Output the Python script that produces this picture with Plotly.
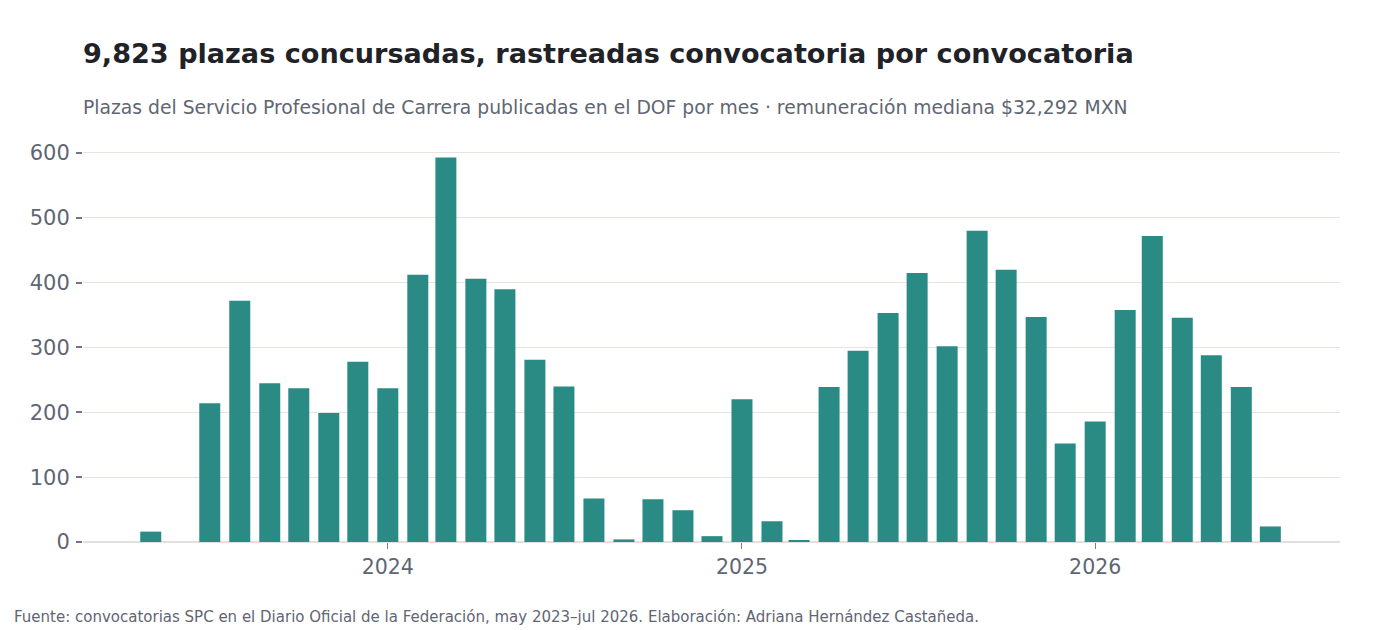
import plotly.graph_objects as go

months = [
    "2023-05-01", "2023-07-01", "2023-08-01", "2023-09-01", "2023-10-01", "2023-11-01", "2023-12-01",
    "2024-01-01", "2024-02-01", "2024-03-01", "2024-04-01", "2024-05-01", "2024-06-01",
    "2024-07-01", "2024-08-01", "2024-09-01", "2024-10-01", "2024-11-01", "2024-12-01",
    "2025-01-01", "2025-02-01", "2025-03-01", "2025-04-01", "2025-05-01", "2025-06-01",
    "2025-07-01", "2025-08-01", "2025-09-01", "2025-10-01", "2025-11-01", "2025-12-01",
    "2026-01-01", "2026-02-01", "2026-03-01", "2026-04-01", "2026-05-01", "2026-06-01",
    "2026-07-01",
]
plazas = [
    16, 214, 372, 245, 237, 199, 278,
    237, 412, 593, 406, 390, 281,
    240, 67, 4, 66, 49, 9,
    220, 32, 3, 239, 295, 353,
    415, 302, 480, 420, 347, 152,
    186, 358, 472, 346, 288, 239,
    24,
]
tick_vals = ["2024-01-01", "2025-01-01", "2026-01-01"]
tick_text = ["2024", "2025", "2026"]
y_ticks = [0, 100, 200, 300, 400, 500, 600]

title = "9,823 plazas concursadas, rastreadas convocatoria por convocatoria"
subtitle = "Plazas del Servicio Profesional de Carrera publicadas en el DOF por mes · remuneración mediana $32,292 MXN"
footer = "Fuente: convocatorias SPC en el Diario Oficial de la Federación, may 2023–jul 2026. Elaboración: Adriana Hernández Castañeda."

BAR = "#2a8b85"
GRAY = "#5f6673"
GRID = "#e6e4df"
FONT = "DejaVu Sans"

fig = go.Figure(go.Bar(
    x=months, y=plazas,
    marker=dict(color=BAR, line=dict(width=0)),
    width=[21.7 * 86400000] * len(months),
    hoverinfo="x+y",
))

fig.update_layout(
    width=1380, height=630,
    margin=dict(l=83, r=40, t=140, b=88),
    paper_bgcolor="white", plot_bgcolor="white",
    font=dict(family=FONT, color=GRAY),
    showlegend=False,
    xaxis=dict(
        type="date",
        range=["2023-02-20", "2026-09-11"],
        tickvals=tick_vals, ticktext=tick_text,
        ticks="outside", ticklen=6, tickwidth=1, tickcolor="#7a808a",
        tickfont=dict(size=20.5, color=GRAY, family=FONT),
        showgrid=False, zeroline=False, showline=False,
    ),
    yaxis=dict(
        range=[0, 620],
        tickvals=y_ticks,
        ticks="outside", ticklen=6, tickwidth=2, tickcolor="#6f7682",
        tickfont=dict(size=21, color=GRAY, family=FONT),
        ticklabelstandoff=2,
        showgrid=True, gridcolor=GRID, gridwidth=1.3,
        zeroline=True, zerolinecolor="#e3e1db", zerolinewidth=2,
        showline=False,
    ),
    annotations=[
        dict(text="<b>" + title + "</b>", xref="paper", yref="paper",
             x=-2 / 1257, y=(542 - 54) / 402, xanchor="left", yanchor="middle",
             showarrow=False, font=dict(size=27.1, color="#1f2226", family=FONT)),
        dict(text=subtitle, xref="paper", yref="paper",
             x=-2 / 1257, y=(542 - 108) / 402, xanchor="left", yanchor="middle",
             showarrow=False, font=dict(size=18.75, color=GRAY, family=FONT)),
        dict(text=footer, xref="paper", yref="paper",
             x=(12 - 83) / 1257, y=(542 - 617) / 402, xanchor="left", yanchor="middle",
             showarrow=False, font=dict(size=15, color=GRAY, family=FONT)),
    ],
)

fig.write_html("out.html")
